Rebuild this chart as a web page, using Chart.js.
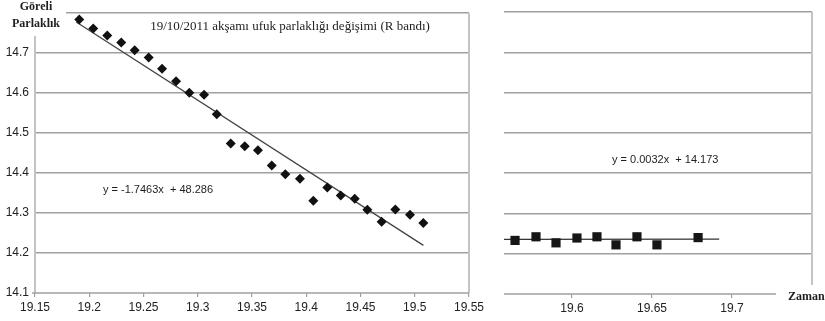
<!DOCTYPE html>
<html><head><meta charset="utf-8">
<script src="https://cdn.jsdelivr.net/npm/chart.js@4.4.0/dist/chart.umd.min.js"></script>
<style>
html,body{margin:0;padding:0;background:#fff;width:825px;height:321px;overflow:hidden}
#c1{position:absolute;left:0;top:0}
#c2{position:absolute;left:490px;top:0}
</style></head><body>
<canvas id="c1" width="490" height="321"></canvas>
<canvas id="c2" width="335" height="321"></canvas>
<script>
// ---- data ----
const leftTime = [19.1908,19.2037,19.2166,19.2295,19.2419,19.2548,19.2671,19.2800,19.2922,19.3058,19.3175,19.3304,19.3433,19.3555,19.3682,19.3807,19.3942,19.4065,19.4194,19.4318,19.4447,19.4563,19.4695,19.4821,19.4956,19.5079];
const leftMag  = [14.784,14.762,14.744,14.727,14.707,14.689,14.661,14.630,14.601,14.596,14.547,14.474,14.467,14.457,14.419,14.397,14.386,14.331,14.364,14.344,14.336,14.308,14.278,14.309,14.296,14.275];
const rightTime = [19.5644,19.5775,19.5900,19.6031,19.6156,19.6275,19.6406,19.6531,19.6788];
const rightMag  = [14.233,14.242,14.227,14.239,14.242,14.222,14.242,14.222,14.240];
const leftFitCoef = [-1.7463, 48.286];
const leftFitRange = [19.188, 19.508];
const rightFitCoef = [0.0032, 14.173];
const rightFitRange = [19.5575, 19.692];
const leftXTicks = [19.15,19.2,19.25,19.3,19.35,19.4,19.45,19.5,19.55];
const rightXTicks = [19.6,19.65,19.7];
const yTicks = [14.1,14.2,14.3,14.4,14.5,14.6,14.7,14.8];
const titleText = '19/10/2011 akşamı ufuk parlaklığı değişimi (R bandı)';
const yTitle = ['Göreli','Parlaklık'];
const xTitle = 'Zaman';
const leftEq = 'y = -1.7463x  + 48.286';
const rightEq = 'y = 0.0032x  + 14.173';

// ---- styles ----
const SANS = "'Liberation Sans', Arial, sans-serif";
const TICK_FONT = {family:SANS, size:12};
const TICK_COLOR = '#222';
const GRID = '#a0a0a0';
const AXIS_LIGHT = '#c4c4c4';

const pts = (xs, ys) => xs.map((x,i)=>({x, y: ys[i]}));
const fitPts = (c, r) => r.map(x=>({x, y: c[0]*x + c[1]}));

function commonY(width, showLabels){
  return {
    type:'linear', min:14.1, max:14.8,
    afterBuildTicks: s => { s.ticks = yTicks.map(v=>({value:v})); },
    afterFit: s => { s.width = width; },
    ticks:{display:showLabels, font:TICK_FONT, color:TICK_COLOR, padding:6, callback:v=>Number(v).toFixed(1)},
    grid:{color: c => (c.tick && Math.abs(c.tick.value-14.1)<1e-6) ? 'rgba(0,0,0,0)' : GRID, lineWidth:1.5, drawTicks:false},
    border:{display:false}
  };
}

const leftDecor = {
  id:'leftDecor',
  beforeDatasetsDraw(chart){
    const {ctx, chartArea:a} = chart;
    ctx.save();
    ctx.lineWidth = 2;
    ctx.strokeStyle = AXIS_LIGHT;
    ctx.beginPath(); ctx.moveTo(a.left, 36); ctx.lineTo(a.left, a.bottom); ctx.stroke();
    ctx.beginPath(); ctx.moveTo(a.right, a.top); ctx.lineTo(a.right, a.bottom); ctx.stroke();
    ctx.strokeStyle = GRID; ctx.lineWidth = 1.5;
    ctx.beginPath(); ctx.moveTo(a.left-3, a.bottom); ctx.lineTo(a.right, a.bottom); ctx.stroke();
    ctx.restore();
  },
  afterDraw(chart){
    const {ctx} = chart;
    ctx.save();
    ctx.fillStyle = '#fff';
    ctx.fillRect(0,0,66,35);
    ctx.fillStyle = '#1e1e1e';
    ctx.textAlign = 'center'; ctx.textBaseline = 'middle';
    ctx.font = "bold 12px 'Liberation Serif', serif";
    ctx.fillText(yTitle[0], 36, 7);
    ctx.fillText(yTitle[1], 36, 24);
    ctx.font = "13px 'Liberation Serif', serif";
    ctx.fillText(titleText, 290, 27);
    ctx.textAlign = 'left';
    ctx.font = "11px " + SANS;
    ctx.fillText(leftEq, 103, 190);
    ctx.restore();
  }
};

const rightDecor = {
  id:'rightDecor',
  beforeDatasetsDraw(chart){
    const {ctx, chartArea:a, scales} = chart;
    ctx.save();
    ctx.lineWidth = 2;
    ctx.strokeStyle = AXIS_LIGHT;
    ctx.beginPath(); ctx.moveTo(a.right, a.top); ctx.lineTo(a.right, a.bottom-9); ctx.stroke();
    ctx.strokeStyle = GRID; ctx.lineWidth = 1.5;
    ctx.beginPath(); ctx.moveTo(a.left, a.bottom); ctx.lineTo(scales.x.getPixelForValue(19.7275), a.bottom); ctx.stroke();
    ctx.restore();
  },
  afterDraw(chart){
    const {ctx} = chart;
    ctx.save();
    ctx.fillStyle = '#1e1e1e';
    ctx.textAlign = 'left'; ctx.textBaseline = 'middle';
    ctx.font = "11px " + SANS;
    ctx.fillText(rightEq, 122, 160);
    ctx.font = "bold 12px 'Liberation Serif', serif";
    ctx.fillText(xTitle, 298, 297);
    ctx.restore();
  }
};

Chart.defaults.devicePixelRatio = 1;

new Chart(document.getElementById('c1'), {
  type:'scatter',
  data:{datasets:[
    {type:'scatter', data:pts(leftTime,leftMag), pointStyle:'rectRot', pointRadius:5, backgroundColor:'#111', borderColor:'#111', borderWidth:0, order:0},
    {type:'line', data:fitPts(leftFitCoef,leftFitRange), borderColor:'#444', borderWidth:1.3, pointRadius:0, fill:false, order:1}
  ]},
  options:{
    responsive:false, animation:false,
    layout:{padding:{left:0,right:21,top:10,bottom:0}},
    plugins:{legend:{display:false}, tooltip:{enabled:false}},
    scales:{
      x:{type:'linear', min:19.15, max:19.55,
        afterBuildTicks: s => { s.ticks = leftXTicks.map(v=>({value:v})); },
        afterFit: s => { s.height = 28; },
        ticks:{font:TICK_FONT, color:TICK_COLOR, padding:3, maxRotation:0, callback:v=>String(v)},
        grid:{display:true, drawOnChartArea:false, drawTicks:true, tickLength:4, color:GRID, lineWidth:1.2},
        border:{display:false}
      },
      y: commonY(35, true)
    }
  },
  plugins:[leftDecor]
});

new Chart(document.getElementById('c2'), {
  type:'scatter',
  data:{datasets:[
    {type:'scatter', data:pts(rightTime,rightMag), pointStyle:'rect', pointRadius:6.5, backgroundColor:'#161616', borderColor:'#161616', borderWidth:0, order:0},
    {type:'line', data:fitPts(rightFitCoef,rightFitRange), borderColor:'#333', borderWidth:1.3, pointRadius:0, fill:false, order:1}
  ]},
  options:{
    responsive:false, animation:false,
    layout:{padding:{left:0,right:13,top:12,bottom:0}},
    plugins:{legend:{display:false}, tooltip:{enabled:false}},
    scales:{
      x:{type:'linear', min:19.5575, max:19.75,
        afterBuildTicks: s => { s.ticks = rightXTicks.map(v=>({value:v})); },
        afterFit: s => { s.height = 27; },
        ticks:{font:TICK_FONT, color:TICK_COLOR, padding:3, maxRotation:0, callback:v=>String(v)},
        grid:{display:true, drawOnChartArea:false, drawTicks:true, tickLength:4, color:GRID, lineWidth:1.2},
        border:{display:false}
      },
      y: commonY(14, false)
    }
  },
  plugins:[rightDecor]
});
</script>
</body></html>
